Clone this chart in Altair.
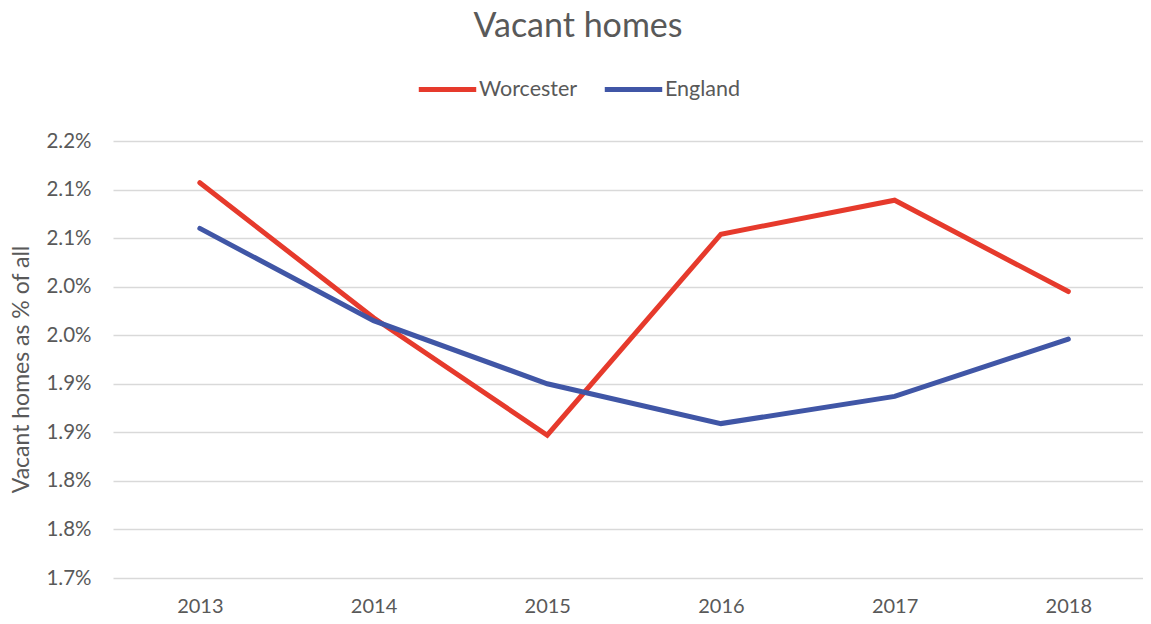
import altair as alt
import pandas as pd

years = [2013, 2014, 2015, 2016, 2017, 2018]
worcester = [2.107, 1.968, 1.847, 2.054, 2.089, 1.995]
england = [2.060, 1.965, 1.900, 1.859, 1.887, 1.946]
series_names = ["Worcester", "England"]
series_colors = ["#E63A2C", "#4056A6"]
y_ticks = [1.70, 1.75, 1.80, 1.85, 1.90, 1.95, 2.00, 2.05, 2.10, 2.15]

rows = []
for name, vals in zip(series_names, [worcester, england]):
    for yr, v in zip(years, vals):
        rows.append({"Year": yr, "Series": name, "Value": v})
df = pd.DataFrame(rows)

FONT = "Lato"
GREY = "#595959"

chart = alt.Chart(df).mark_line(strokeWidth=5, strokeCap="round", strokeJoin="miter").encode(
    x=alt.X("Year:Q",
            scale=alt.Scale(domain=[2012.5, 2018.43], nice=False, zero=False),
            axis=alt.Axis(title=None, values=years, format="d", labelAngle=0, labelFontSize=20,
                          labelColor=GREY, labelFont=FONT, labelPadding=18, ticks=False,
                          domain=False, grid=False)),
    y=alt.Y("Value:Q",
            scale=alt.Scale(domain=[1.70, 2.15], nice=False, zero=False),
            axis=alt.Axis(values=y_ticks,
                          labelExpr="format(round(datum.value*10+0.000001)/10, '.1f') + '%'",
                          labelFontSize=20.5, labelColor=GREY, labelFont=FONT, labelPadding=22,
                          ticks=False, domain=False, grid=True, gridColor="#d9d9d9", gridWidth=1.5,
                          title="Vacant homes as % of all", titleFontSize=23, titleFontWeight="normal",
                          titleColor=GREY, titleFont=FONT, titleAngle=270, titleAlign="center",
                          titleBaseline="middle", titleX=-92, titleY=228)),
    color=alt.Color("Series:N", sort=series_names,
                    scale=alt.Scale(domain=series_names, range=series_colors),
                    legend=alt.Legend(title=None, orient="none", direction="horizontal",
                                      legendX=303, legendY=-83, symbolType="stroke",
                                      symbolSize=3300, symbolStrokeWidth=5,
                                      labelFontSize=21.5, labelColor=GREY, labelFont=FONT,
                                      labelOffset=0, columnPadding=16)),
).properties(
    width=1030, height=437,
    title=alt.TitleParams("Vacant homes", fontSize=34, font=FONT, color=GREY,
                          fontWeight="normal", anchor="middle", dx=-50, offset=14),
    padding={"left": 105, "top": 133, "right": 0, "bottom": 45},
    autosize=alt.AutoSizeParams(type="none"),
).configure_view(stroke=None)

chart.save("out.html", embed_options={"renderer": "svg", "actions": False})
